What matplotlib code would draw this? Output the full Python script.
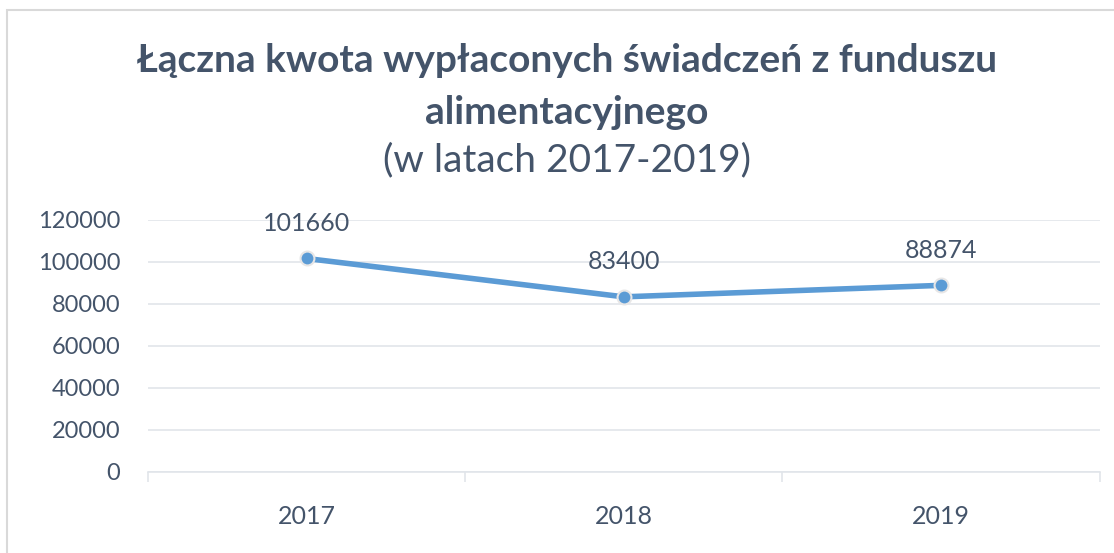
import matplotlib.pyplot as plt
from matplotlib.patches import Rectangle

years = ["2017", "2018", "2019"]
values = [101660, 83400, 88874]
y_ticks = [0, 20000, 40000, 60000, 80000, 100000, 120000]

TEXT = "#44546A"
LINE = "#5B9BD5"
GRID = "#E1E5EA"

plt.rcParams["font.family"] = ["Lato", "DejaVu Sans"]

fig = plt.figure(figsize=(11.14, 5.53), dpi=100)
ax = fig.add_axes([0.1329, 0.1465, 0.987 - 0.1329, 0.6022 - 0.1465])

# ramka wykresu
fig.patches.append(Rectangle((0.0065, -0.02), 1.1, 1 - 10 / 553 + 0.02,
                             transform=fig.transFigure, fill=False,
                             edgecolor="#D9D9D9", linewidth=1.5))

x = range(len(years))
ax.plot(x, values, color=LINE, linewidth=4, marker="o", markersize=10,
        markerfacecolor=LINE, markeredgecolor="#E7E6E6", markeredgewidth=1.5,
        zorder=3, solid_capstyle="round")

for xi, v in zip(x, values):
    ax.annotate(str(v), (xi, v), xytext=(0, 17), textcoords="offset points",
                ha="center", va="bottom", fontsize=18, color=TEXT)

ax.set_xlim(-0.5, len(years) - 0.5)
ax.set_ylim(0, 120000)
ax.set_yticks(y_ticks)
ax.set_yticklabels([str(t) for t in y_ticks], fontsize=17, color=TEXT)
ax.set_xticks(list(x))
ax.set_xticklabels(years, fontsize=18, color=TEXT)
ax.set_xticks([-0.5, 0.5, 1.5, 2.5], minor=True)
ax.tick_params(axis="x", which="major", length=0, pad=24)
ax.tick_params(axis="x", which="minor", length=7, color=GRID, width=1.2)
ax.tick_params(axis="y", length=0, pad=20)

ax.grid(axis="y", color=GRID, linewidth=1.2)
ax.set_axisbelow(True)
for side in ["top", "right", "left"]:
    ax.spines[side].set_visible(False)
ax.spines["bottom"].set_color(GRID)
ax.spines["bottom"].set_linewidth(1.2)

fig.text(0.509, 0.89, "Łączna kwota wypłaconych świadczeń z funduszu",
         ha="center", va="center", fontsize=28, fontweight="bold", color=TEXT)
fig.text(0.509, 0.797, "alimentacyjnego",
         ha="center", va="center", fontsize=28, fontweight="bold", color=TEXT)
fig.text(0.509, 0.71, "(w latach 2017-2019)",
         ha="center", va="center", fontsize=28, color=TEXT)

fig.savefig("out.png", dpi=100, facecolor="white")
